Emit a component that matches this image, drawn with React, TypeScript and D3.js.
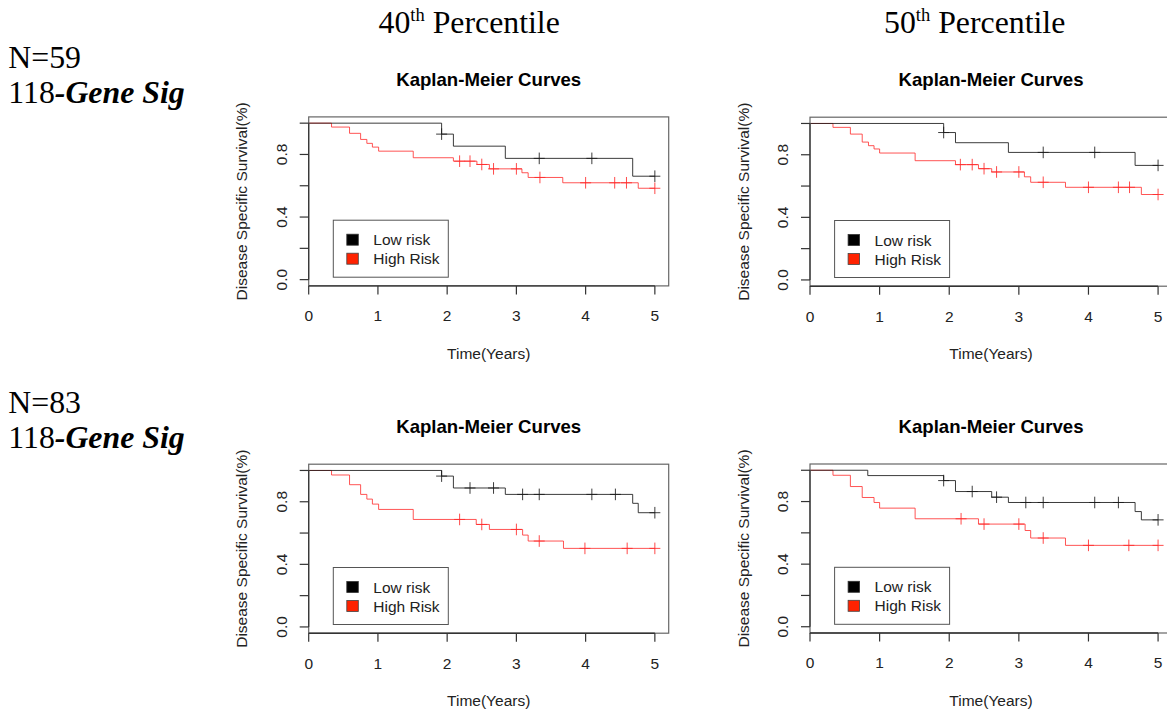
import React from "react";
import * as d3 from "d3";

// ---------- shared text / ticks ----------
const xTicks = [0, 1, 2, 3, 4, 5];
const yTicks = [0, 0.2, 0.4, 0.6, 0.8, 1.0];
const yLabelTicks = [0, 0.4, 0.8];
const legendLabels = ["Low risk", "High Risk"];
const chartTitle = "Kaplan-Meier Curves";
const xAxisTitle = "Time(Years)";
const yAxisTitle = "Disease Specific Survival(%)";
const columnOrdinals = ["40", "50"];
const rowCounts = ["N=59", "N=83"];
const endTime = 5;

// ---------- Panel A: N=59, 40th percentile ----------
const aLowTimes = [0, 1.92, 2.09, 2.84, 4.68];
const aLowSurv = [1, 0.93, 0.853, 0.775, 0.661];
const aLowCensor = [1.92, 3.33, 4.09, 5.0];
const aHighTimes = [0, 0.33, 0.59, 0.75, 0.84, 0.92, 1.01, 1.51, 2.09, 2.43, 2.61, 3.08, 3.17, 3.67, 4.76];
const aHighSurv = [1, 0.975, 0.935, 0.896, 0.871, 0.847, 0.821, 0.779, 0.757, 0.736, 0.708, 0.683, 0.653, 0.619, 0.584];
const aHighCensor = [2.18, 2.33, 2.5, 2.67, 3.0, 3.34, 4.0, 4.42, 4.59, 5.0];

// ---------- Panel B: N=59, 50th percentile ----------
const bLowTimes = [0, 1.92, 2.09, 2.85, 4.67];
const bLowSurv = [1, 0.942, 0.877, 0.815, 0.732];
const bLowCensor = [1.92, 3.35, 4.09, 5.0];
const bHighTimes = [0, 0.33, 0.58, 0.75, 0.84, 0.92, 1.0, 1.51, 2.09, 2.42, 2.61, 3.08, 3.17, 3.67, 4.76];
const bHighSurv = [1, 0.975, 0.932, 0.881, 0.858, 0.837, 0.811, 0.762, 0.737, 0.711, 0.69, 0.659, 0.624, 0.592, 0.546];
const bHighCensor = [2.16, 2.33, 2.5, 2.68, 3.0, 3.35, 4.0, 4.43, 4.59, 5.0];

// ---------- Panel C: N=83, 40th percentile ----------
const cLowTimes = [0, 1.92, 2.09, 2.84, 4.68, 4.76];
const cLowSurv = [1, 0.964, 0.888, 0.847, 0.79, 0.73];
const cLowCensor = [1.92, 2.33, 2.67, 3.09, 3.33, 4.09, 4.43, 5.0];
const cHighTimes = [0, 0.33, 0.59, 0.75, 0.84, 0.92, 1.01, 1.51, 2.42, 2.61, 3.09, 3.17, 3.68];
const cHighSurv = [1, 0.971, 0.909, 0.847, 0.817, 0.785, 0.751, 0.687, 0.655, 0.623, 0.587, 0.549, 0.502];
const cHighCensor = [2.18, 2.5, 3.0, 3.33, 3.99, 4.6, 5.0];

// ---------- Panel D: N=83, 50th percentile ----------
const dLowTimes = [0, 0.83, 1.92, 2.09, 2.61, 2.85, 4.67, 4.76];
const dLowSurv = [1, 0.966, 0.934, 0.864, 0.828, 0.794, 0.736, 0.683];
const dLowCensor = [1.92, 2.33, 2.68, 3.1, 3.35, 4.09, 4.43, 5.0];
const dHighTimes = [0, 0.33, 0.58, 0.75, 0.92, 1.0, 1.51, 2.42, 3.09, 3.17, 3.67];
const dHighSurv = [1, 0.968, 0.896, 0.826, 0.794, 0.758, 0.69, 0.656, 0.615, 0.567, 0.52];
const dHighCensor = [2.17, 2.5, 3.0, 3.35, 4.0, 4.58, 5.0];

type Series = { t: number[]; s: number[]; c: number[] };

const panels = [
  { left: 308.7, top: 116.9, width: 360, height: 169, low: { t: aLowTimes, s: aLowSurv, c: aLowCensor }, high: { t: aHighTimes, s: aHighSurv, c: aHighCensor } },
  { left: 810, top: 117.2, width: 362, height: 169, low: { t: bLowTimes, s: bLowSurv, c: bLowCensor }, high: { t: bHighTimes, s: bHighSurv, c: bHighCensor } },
  { left: 308.7, top: 464.2, width: 360, height: 169, low: { t: cLowTimes, s: cLowSurv, c: cLowCensor }, high: { t: cHighTimes, s: cHighSurv, c: cHighCensor } },
  { left: 810, top: 464.0, width: 362, height: 169, low: { t: dLowTimes, s: dLowSurv, c: dLowCensor }, high: { t: dHighTimes, s: dHighSurv, c: dHighCensor } },
];

const SANS = "'Liberation Sans', Arial, Helvetica, sans-serif";
const SERIF = "'Liberation Serif', 'Times New Roman', Times, serif";
const LOW_COLOR = "#1a1a1a";
const HIGH_COLOR = "#ff2a2a";

function KMPanel(p: { left: number; top: number; width: number; height: number; low: Series; high: Series }) {
  const { left, top, width, height } = p;
  const x = d3.scaleLinear().domain([0, 5.2]).range([left, left + width]);
  const y = d3.scaleLinear().domain([-0.04, 1.04]).range([top + height, top]);
  const bottom = top + height;
  const line = d3
    .line<[number, number]>()
    .x((d) => x(d[0]))
    .y((d) => y(d[1]))
    .curve(d3.curveStepAfter);
  const pts = (s: Series): [number, number][] => [
    ...s.t.map((t, i) => [t, s.s[i]] as [number, number]),
    [endTime, s.s[s.s.length - 1]],
  ];
  const survAt = (s: Series, t: number) => s.s[Math.max(0, d3.bisectRight(s.t, t) - 1)];
  const cross = (s: Series) =>
    s.c
      .map((t) => {
        const cx = x(t);
        const cy = y(survAt(s, t));
        return `M${cx - 5.5},${cy}H${cx + 5.5}M${cx},${cy - 5.8}V${cy + 5.8}`;
      })
      .join("");
  const cx = left + width / 2;
  const cy = top + height / 2;
  const lgX = left + 24.6;
  const lgY = top + 103.3;
  return (
    <g>
      <text x={cx} y={top - 31} textAnchor="middle" fontFamily={SANS} fontWeight="bold" fontSize={18.6} fill="#000">
        {chartTitle}
      </text>
      {/* curves */}
      <path d={line(pts(p.high)) || ""} fill="none" stroke={HIGH_COLOR} strokeWidth={1} strokeOpacity={0.8} />
      <path d={cross(p.high)} fill="none" stroke={HIGH_COLOR} strokeWidth={1} strokeOpacity={0.85} />
      <path d={line(pts(p.low)) || ""} fill="none" stroke={LOW_COLOR} strokeWidth={1} strokeOpacity={0.85} />
      <path d={cross(p.low)} fill="none" stroke={LOW_COLOR} strokeWidth={1} strokeOpacity={0.85} />
      {/* box */}
      <rect x={left} y={top} width={width} height={height} fill="none" stroke="#666" strokeWidth={1.2} />
      {/* y axis */}
      <line x1={left} x2={left} y1={y(0)} y2={y(1)} stroke="#333" strokeWidth={1.2} />
      {yTicks.map((t) => (
        <line key={"yt" + t} x1={left - 9} x2={left} y1={y(t)} y2={y(t)} stroke="#333" strokeWidth={1.2} />
      ))}
      {yLabelTicks.map((t) => (
        <text
          key={"yl" + t}
          transform={`translate(${left - 21.8},${y(t)}) rotate(-90)`}
          textAnchor="middle"
          fontFamily={SANS}
          fontSize={15.5}
          fill="#222"
        >
          {t.toFixed(1)}
        </text>
      ))}
      {/* x axis */}
      <line x1={x(0)} x2={x(5)} y1={bottom} y2={bottom} stroke="#333" strokeWidth={1.4} />
      {xTicks.map((t) => (
        <g key={"xt" + t}>
          <line x1={x(t)} x2={x(t)} y1={bottom} y2={bottom + 8.5} stroke="#333" strokeWidth={1.2} />
          <text x={x(t)} y={bottom + 35.3} textAnchor="middle" fontFamily={SANS} fontSize={15.5} fill="#222">
            {t}
          </text>
        </g>
      ))}
      <text x={cx} y={bottom + 73} textAnchor="middle" fontFamily={SANS} fontSize={15.5} fill="#222">
        {xAxisTitle}
      </text>
      <text transform={`translate(${left - 61.5},${cy}) rotate(-90)`} textAnchor="middle" fontFamily={SANS} fontSize={15.5} fill="#222">
        {yAxisTitle}
      </text>
      {/* legend */}
      <rect x={lgX} y={lgY} width={115} height={57} fill="#fff" stroke="#555" strokeWidth={1} />
      <rect x={lgX + 13.5} y={lgY + 14} width={11.5} height={11} fill="#000" stroke="#333" strokeWidth={0.8} />
      <rect x={lgX + 13.5} y={lgY + 33} width={11.5} height={11} fill="#ff2200" stroke="#444" strokeWidth={0.8} />
      <text x={lgX + 40} y={lgY + 25} fontFamily={SANS} fontSize={15.5} fill="#222">
        {legendLabels[0]}
      </text>
      <text x={lgX + 40} y={lgY + 44} fontFamily={SANS} fontSize={15.5} fill="#222">
        {legendLabels[1]}
      </text>
    </g>
  );
}

export default function App() {
  const headerX = [378.5, 884];
  const rowY = [68.3, 413.3];
  return (
    <svg width={1167} height={712} style={{ position: "absolute", left: 0, top: 0, background: "#fff" }}>
      <rect x={0} y={0} width={1167} height={712} fill="#fff" />
      {columnOrdinals.map((o, i) => (
        <text key={"h" + i} x={headerX[i]} y={33.3} fontFamily={SERIF} fontSize={31.8} fill="#000">
          <tspan>{o}</tspan>
          <tspan dy={-12.6} fontSize={18.5}>th</tspan>
          <tspan dy={12.6}> Percentile</tspan>
        </text>
      ))}
      {rowCounts.map((n, i) => (
        <g key={"r" + i}>
          <text x={8.3} y={rowY[i]} fontFamily={SERIF} fontSize={31.8} fill="#000">
            {n}
          </text>
          <text x={8.3} y={rowY[i] + 35} fontFamily={SERIF} fontSize={31.8} fill="#000">
            <tspan>118</tspan>
            <tspan fontWeight="bold" fontStyle="italic">-Gene Sig</tspan>
          </text>
        </g>
      ))}
      {panels.map((p, i) => (
        <KMPanel key={i} {...p} />
      ))}
    </svg>
  );
}
